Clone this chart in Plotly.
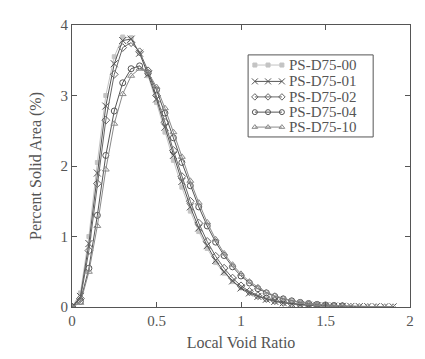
import plotly.graph_objects as go

x = [0.0, 0.05, 0.1, 0.15, 0.2, 0.25, 0.3, 0.35, 0.4, 0.45, 0.5, 0.55, 0.6, 0.65,
     0.7, 0.75, 0.8, 0.85, 0.9, 0.95, 1.0, 1.05, 1.1, 1.15, 1.2, 1.25, 1.3, 1.35,
     1.4, 1.45, 1.5, 1.55, 1.6, 1.65, 1.7, 1.75, 1.8, 1.85, 1.9]

s00 = [0, 0.2, 1.0, 2.05, 3.0, 3.55, 3.83, 3.82, 3.6, 3.28, 2.9, 2.48, 2.08, 1.7,
       1.36, 1.07, 0.83, 0.63, 0.48, 0.36, 0.27, 0.2, 0.15, 0.11, 0.08, 0.06, 0.045,
       0.035, 0.025, 0.02, 0.015, 0.012, 0.01]
s01 = [0, 0.15, 0.9, 1.9, 2.85, 3.45, 3.78, 3.8, 3.6, 3.3, 2.95, 2.55, 2.15, 1.78,
       1.42, 1.12, 0.87, 0.66, 0.5, 0.37, 0.27, 0.2, 0.15, 0.11, 0.08, 0.06, 0.045,
       0.035, 0.025, 0.02, 0.015, 0.012, 0.01, 0.008, 0.006, 0.005, 0.004, 0.003, 0.002]
s02 = [0, 0.12, 0.8, 1.75, 2.65, 3.3, 3.68, 3.75, 3.62, 3.35, 3.0, 2.62, 2.22, 1.85,
       1.5, 1.19, 0.93, 0.72, 0.55, 0.41, 0.3, 0.22, 0.16, 0.12, 0.09, 0.065, 0.048,
       0.036, 0.027, 0.02, 0.015, 0.011, 0.008]
s04 = [0, 0.08, 0.55, 1.3, 2.15, 2.78, 3.18, 3.38, 3.42, 3.32, 3.08, 2.75, 2.4, 2.05,
       1.72, 1.42, 1.15, 0.92, 0.73, 0.57, 0.44, 0.34, 0.26, 0.2, 0.15, 0.115, 0.087,
       0.066, 0.05, 0.038, 0.029, 0.022, 0.017]
s10 = [0, 0.06, 0.5, 1.15, 1.95, 2.6, 3.02, 3.28, 3.38, 3.33, 3.12, 2.82, 2.48, 2.13,
       1.79, 1.48, 1.2, 0.96, 0.76, 0.6, 0.47, 0.36, 0.28, 0.21, 0.16, 0.12, 0.09,
       0.07, 0.053, 0.04, 0.03, 0.023, 0.017, 0.013, 0.01, 0.008, 0.006, 0.004, 0.003]

names = ["PS-D75-00", "PS-D75-01", "PS-D75-02", "PS-D75-04", "PS-D75-10"]
series = [s00, s01, s02, s04, s10]
symbols = ["square", "x-thin-open", "diamond-open", "circle-open", "triangle-up-open"]
colors = ["#c4c4c4", "#555555", "#666666", "#555555", "#8a8a8a"]
sizes = [4, 7, 6, 6, 6]
leg_sizes = [4, 6, 5, 5, 5]

font = "Liberation Serif, Times New Roman, serif"
gray = "#555555"

fig = go.Figure()
for n, s, sym, c, sz in zip(names, series, symbols, colors, sizes):
    fig.add_trace(go.Scatter(
        x=x[:len(s)], y=s, name=n, mode="lines+markers", showlegend=False,
        line=dict(color=c, width=1),
        marker=dict(symbol=sym, size=sz, color=c, line=dict(color=c, width=1)),
    ))

# custom legend (layout positions in an invisible overlay axis, 0..1 over the plot area)
leg_x0, leg_x1, leg_top, leg_bot = 0.521, 0.891, 0.894, 0.603
row_y = [0.858, 0.800, 0.745, 0.691, 0.638]
sample_x = [0.541, 0.580, 0.621]
fig.add_shape(type="rect", xref="paper", yref="paper", x0=leg_x0, x1=leg_x1,
              y0=leg_bot, y1=leg_top, line=dict(color=gray, width=1),
              fillcolor="white", layer="below")
for n, sym, c, sz, ry in zip(names, symbols, colors, leg_sizes, row_y):
    fig.add_trace(go.Scatter(
        x=sample_x, y=[ry] * 3, xaxis="x2", yaxis="y2", mode="lines+markers",
        showlegend=False, hoverinfo="skip",
        line=dict(color=c, width=1),
        marker=dict(symbol=sym, size=sz, color=c, line=dict(color=c, width=1)),
    ))
    fig.add_annotation(text=n, xref="paper", yref="paper", x=0.638, y=ry,
                       xanchor="left", yanchor="middle", showarrow=False, borderpad=0,
                       font=dict(family=font, size=15, color=gray))

axis_common = dict(showline=True, linecolor=gray, linewidth=1, mirror="ticks",
                   ticks="inside", ticklen=5, tickcolor=gray, showgrid=False,
                   zeroline=False, automargin=False,
                   tickfont=dict(family=font, size=15, color=gray))

fig.update_layout(
    width=417, height=351,
    margin=dict(l=64, r=15, t=17, b=52),
    paper_bgcolor="white", plot_bgcolor="white",
    font=dict(family=font, color=gray),
    xaxis=dict(range=[0, 2], tickvals=[0, 0.5, 1, 1.5, 2],
               ticktext=["0", "0.5", "1", "1.5", "2"],
               title=dict(text="Local Void Ratio", font=dict(family=font, size=16, color=gray), standoff=8),
               **axis_common),
    yaxis=dict(range=[0, 4], tickvals=[0, 1, 2, 3, 4],
               title=dict(text="Percent Solid Area (%)", font=dict(family=font, size=16, color=gray), standoff=14),
               **axis_common),
    xaxis2=dict(overlaying="x", range=[0, 1], visible=False, domain=[0, 1]),
    yaxis2=dict(overlaying="y", range=[0, 1], visible=False, anchor="x2"),
    showlegend=False,
)

fig.write_html("out.html")
